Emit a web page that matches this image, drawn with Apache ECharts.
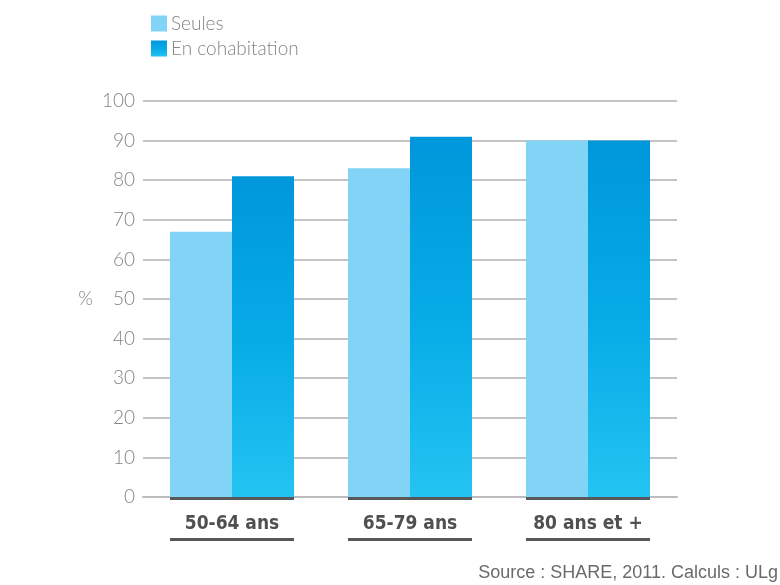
<!DOCTYPE html>
<html><head><meta charset="utf-8">
<script src="https://cdn.jsdelivr.net/npm/echarts@6/dist/echarts.min.js"></script>
<style>html,body{margin:0;padding:0;background:#fff}#c{width:780px;height:585px}</style>
</head><body><div id="c"></div>
<script>
const categories = ['50-64 ans', '65-79 ans', '80 ans et +'];
const seules = [67, 83, 90];
const cohabitation = [81, 91, 90];
const seriesNames = ['Seules', 'En cohabitation'];
const yTicks = [0, 10, 20, 30, 40, 50, 60, 70, 80, 90, 100];

const grad = () => new echarts.graphic.LinearGradient(0, 0, 0, 1, [
  { offset: 0, color: '#0097db' }, { offset: 0.5, color: '#06abe6' }, { offset: 1, color: '#24c4f2' }]);

const chart = echarts.init(document.getElementById('c'));
chart.setOption({
  animation: false,
  grid: { left: 143, right: 103, top: 101, bottom: 88 },
  legend: {
    orient: 'vertical', left: 146, top: 9, itemGap: 6,
    itemWidth: 16, itemHeight: 16, icon: 'rect',
    textStyle: { color: '#858585', fontSize: 19, fontFamily: 'Lato', fontWeight: 300, padding: [0,0,0,-1] },
    data: [{ name: seriesNames[0], itemStyle: { color: '#82d4f7' } },
           { name: seriesNames[1], itemStyle: { color: grad() } }]
  },
  xAxis: {
    type: 'category', data: categories,
    axisLine: { lineStyle: { color: '#bcbcbe', width: 2 } },
    axisTick: { show: false },
    axisLabel: {
      margin: 0, interval: 0,
      formatter: v => '{top|}\n{t|' + v + '}\n{bot|}',
      rich: {
        top: { width: 124, height: 3, backgroundColor: '#58585a' },
        t: { fontSize: 19, fontFamily: 'DejaVu Sans Condensed, Liberation Sans Narrow', color: '#505052', height: 38, lineHeight: 38, padding: [10, 0, 0, 0], fontWeight: 'bold' },
        bot: { width: 124, height: 3, backgroundColor: '#58585a' }
      }
    }
  },
  yAxis: {
    type: 'value', min: 0, max: 100, interval: 10,
    name: '%', nameLocation: 'middle', nameRotate: 0, nameGap: 50,
    nameTextStyle: { color: '#858585', fontSize: 19, fontFamily: 'Lato', fontWeight: 300 },
    axisLine: { show: false }, axisTick: { show: false },
    axisLabel: { color: '#858585', fontSize: 19, fontFamily: 'Lato', fontWeight: 300, margin: 8,
      formatter: v => yTicks.includes(v) ? String(v) : '' },
    splitLine: { lineStyle: { color: '#c4c4c6', width: 2 } }
  },
  series: [
    { name: seriesNames[0], type: 'bar', data: seules, barWidth: 62, barGap: '0%',
      itemStyle: { color: '#82d4f7' } },
    { name: seriesNames[1], type: 'bar', data: cohabitation, barWidth: 62,
      itemStyle: { color: grad() } }
  ],
  graphic: [{
    type: 'text', right: 2, bottom: 3,
    style: { text: 'Source : SHARE, 2011. Calculs : ULg', fill: '#6a6a6a', fontSize: 18, fontFamily: 'Liberation Sans' }
  }]
});
</script></body></html>
